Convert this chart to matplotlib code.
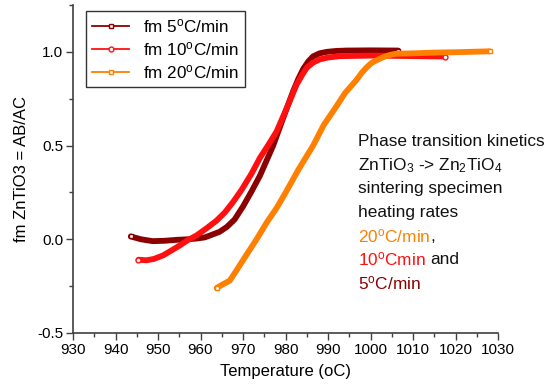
import numpy as np
import matplotlib
matplotlib.use("Agg")
import matplotlib.pyplot as plt
from matplotlib.ticker import MultipleLocator, FormatStrFormatter

plt.rcParams['font.family'] = ['Liberation Sans', 'DejaVu Sans']
plt.rcParams['mathtext.fontset'] = 'custom'
plt.rcParams['mathtext.rm'] = 'Liberation Sans'
plt.rcParams['mathtext.it'] = 'Liberation Sans:italic'

# 5 C/min run
t5 = [943.6, 946.0, 948.8, 951.5, 954.4, 957.0, 959.1, 961.0, 962.2, 964.5, 966.2, 968.0,
      970.0, 972.0, 974.0, 977.1, 979.5, 981.8, 983.0, 984.2, 985.4, 986.5, 988.0, 989.7,
      992.0, 994.4, 1000.0, 1006.5]
fm5 = [0.015, 0.0, -0.01, -0.008, -0.003, 0.0, 0.004, 0.01, 0.02, 0.04, 0.066, 0.105,
       0.175, 0.255, 0.34, 0.50, 0.65, 0.79, 0.855, 0.91, 0.95, 0.976, 0.992, 1.0,
       1.005, 1.007, 1.008, 1.007]

# 10 C/min run
t10 = [945.4, 947.3, 949.0, 951.2, 953.0, 955.2, 957.0, 959.1, 961.5, 963.8, 965.8, 967.7,
       969.7, 972.0, 974.0, 976.0, 977.9, 980.3, 982.6, 984.0, 985.0, 986.5, 988.1, 990.0,
       992.8, 1000.0, 1008.0, 1017.5]
fm10 = [-0.109, -0.112, -0.105, -0.086, -0.062, -0.032, -0.005, 0.021, 0.06, 0.10, 0.145, 0.20,
        0.265, 0.35, 0.435, 0.505, 0.575, 0.70, 0.825, 0.88, 0.915, 0.943, 0.96, 0.97,
        0.977, 0.98, 0.978, 0.975]

# 20 C/min run
t20 = [963.8, 964.5, 966.9, 968.5, 970.9, 973.2, 975.6, 978.0, 980.3, 983.0, 986.5, 989.0,
       992.0, 994.0, 996.7, 998.0, 999.0, 1000.2, 1001.4, 1003.0, 1004.5, 1006.0, 1010.0,
       1015.0, 1020.0, 1028.1]
fm20 = [-0.26, -0.25, -0.22, -0.165, -0.08, 0.0, 0.09, 0.17, 0.26, 0.37, 0.50, 0.61,
        0.71, 0.78, 0.85, 0.89, 0.915, 0.94, 0.955, 0.972, 0.983, 0.99, 0.992,
        0.996, 0.998, 1.003]

c5, c10, c20 = '#8b0000', '#ff1010', '#ff8000'

fig = plt.figure(figsize=(5.48, 3.90), dpi=100)
ax = fig.add_axes([73 / 548, 1 - 333 / 390, 425 / 548, 328 / 390])

series = [(t5, fm5, c5, 's', 'fm 5$^\\mathrm{o}$C/min'),
          (t10, fm10, c10, 'o', 'fm 10$^\\mathrm{o}$C/min'),
          (t20, fm20, c20, 's', 'fm 20$^\\mathrm{o}$C/min')]
lines = []
for t, v, c, m, lab in series:
    ax.plot(t, v, color=c, lw=4.2, solid_capstyle='round', solid_joinstyle='round',
            marker=m, ms=3.5, mfc='white', mec=c, mew=1, markevery=[0, len(t) - 1])
    # legend proxy
    h, = ax.plot([], [], color=c, lw=1.3, marker=m, ms=3.5, mfc='white', mec=c, mew=1, label=lab)
    lines.append(h)

ax.set_xlim(930, 1030)
ax.set_ylim(-0.5, 1.25)
ax.xaxis.set_major_locator(MultipleLocator(10))
ax.xaxis.set_minor_locator(MultipleLocator(5))
ax.yaxis.set_major_locator(MultipleLocator(0.5))
ax.yaxis.set_minor_locator(MultipleLocator(0.25))
ax.yaxis.set_major_formatter(FormatStrFormatter('%.1f'))
for s in ['top', 'right']:
    ax.spines[s].set_visible(False)
for s in ['left', 'bottom']:
    ax.spines[s].set_color('#404040')
    ax.spines[s].set_linewidth(1.2)
ax.tick_params(which='major', direction='out', length=5, width=1, color='#404040', labelsize=11, pad=2)
ax.tick_params(which='minor', direction='out', length=3, width=1, color='#404040')
ax.set_xlabel('Temperature (oC)', fontsize=12, labelpad=5)
ax.set_ylabel('fm ZnTiO3 = AB/AC', fontsize=12, labelpad=6)

leg = ax.legend(handles=lines, loc='upper left', bbox_to_anchor=(0.03, 0.982), borderaxespad=0,
                fontsize=12.3, frameon=True, fancybox=False, edgecolor='black',
                handlelength=2.2, labelspacing=0.3, borderpad=0.35, handletextpad=0.8)
leg.get_frame().set_linewidth(1)

# annotation block
fs = 12.4
x0 = 358 / 548
ys = [141.7 + 23.6 * i for i in range(7)]
yf = [1 - y / 390 for y in ys]
plain = ['Phase transition kinetics', 'ZnTiO$_3$ -> Zn$_2$TiO$_4$',
         'sintering specimen', 'heating rates']
for txt, y in zip(plain, yf):
    fig.text(x0, y, txt, fontsize=fs, va='center', color='#111111')

parts = [[('20$^\\mathrm{o}$C/min', c20), (',', '#111111')],
         [('10$^\\mathrm{o}$Cmin', c10), ('and', '#111111')],
         [('5$^\\mathrm{o}$C/min', c5)]]
fig.canvas.draw()
r = fig.canvas.get_renderer()
for line, y in zip(parts, yf[4:]):
    xx = x0
    for txt, col in line:
        if txt == 'and':
            xx += 4 / 548
        tt = fig.text(xx, y, txt, fontsize=fs, va='center', color=col)
        bb = tt.get_window_extent(renderer=r)
        xx = bb.x1 / fig.bbox.width

fig.savefig('out.png', dpi=100)
